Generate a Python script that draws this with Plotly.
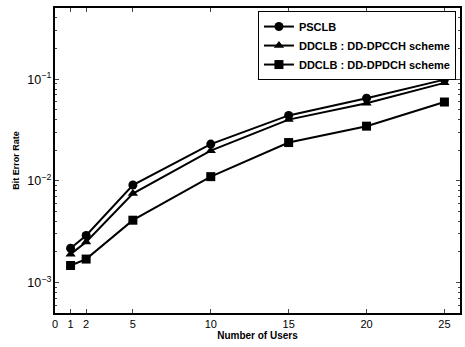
import plotly.graph_objects as go

users = [1, 2, 5, 10, 15, 20, 25]
psclb = [0.00217, 0.0029, 0.0091, 0.023, 0.044, 0.065, 0.099]
ddclb_dpcch = [0.0019, 0.0025, 0.0075, 0.0198, 0.040, 0.058, 0.092]
ddclb_dpdch = [0.00147, 0.0017, 0.0041, 0.011, 0.0238, 0.0345, 0.0596]
series_names = ["PSCLB", "DDCLB : DD-DPCCH scheme", "DDCLB : DD-DPDCH scheme"]
symbols = ["circle", "triangle-up", "square"]
x_ticks = [0, 1, 2, 5, 10, 15, 20, 25]

fig = go.Figure()
for name, vals, sym in zip(series_names, [psclb, ddclb_dpcch, ddclb_dpdch], symbols):
    fig.add_trace(go.Scatter(
        x=users, y=vals, name=name, mode="lines+markers",
        line=dict(color="black", width=2),
        marker=dict(symbol=sym, size=9, color="black"),
    ))

font = dict(family="Arial, Liberation Sans, sans-serif", color="black")
fig.update_layout(
    width=465, height=347,
    margin=dict(l=55, r=3, t=8, b=34),
    paper_bgcolor="white", plot_bgcolor="white",
    font=dict(size=10, **font),
    legend=dict(
        x=0.99, y=0.99, xanchor="right", yanchor="top",
        bordercolor="black", borderwidth=1, bgcolor="white",
        font=dict(size=11, weight="bold", **font), tracegroupgap=0,
        itemwidth=30,
    ),
    showlegend=True,
)
fig.update_xaxes(
    range=[0, 26], tickvals=x_ticks, ticks="inside", ticklen=4,
    showline=True, linecolor="black", linewidth=1.5, mirror="ticks",
    showgrid=False, zeroline=False,
    title=dict(text="Number of Users", font=dict(size=10, weight="bold", **font), standoff=2),
    tickfont=dict(size=11, **font),
)
fig.update_yaxes(
    type="log", range=[-3.3, -0.3], dtick=1, exponentformat="power",
    ticks="inside", ticklen=4,
    minor=dict(ticks="inside", ticklen=2, showgrid=False),
    showline=True, linecolor="black", linewidth=1.5, mirror="ticks",
    showgrid=False, zeroline=False,
    title=dict(text="Bit Error Rate", font=dict(size=9, weight="bold", **font), standoff=6),
    tickfont=dict(size=10, **font),
)
fig.write_html("out.html")
